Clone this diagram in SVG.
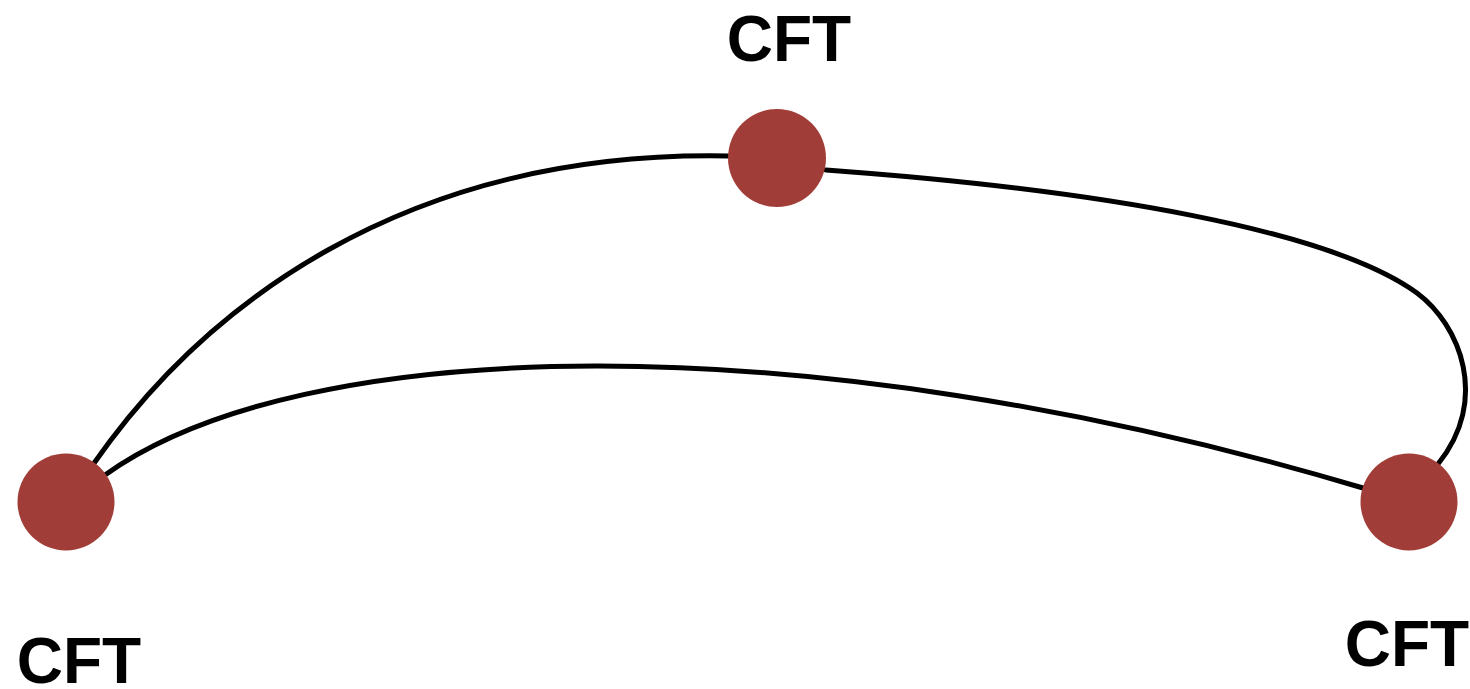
<svg xmlns="http://www.w3.org/2000/svg" width="1470" height="689" viewBox="0 0 1470 689">
  <style>
    .edge { fill: none; stroke: #000; stroke-width: 5; stroke-linecap: round; }
    .dot { fill: #a6403a; filter: url(#grain); }
    .label { font-family: "Liberation Sans", Arial, sans-serif; font-weight: bold; font-size: 64px; fill: #000; text-anchor: middle; }
  </style>
  <defs>
    <!-- faint paper-like grain on the node discs -->
    <filter id="grain" x="0" y="0" width="100%" height="100%">
      <feTurbulence type="fractalNoise" baseFrequency="0.9" numOctaves="2" seed="3" result="noise"/>
      <feColorMatrix in="noise" type="matrix" values="0 0 0 0 0  0 0 0 0 0  0 0 0 0 0  0 0 0 0.12 0" result="speck"/>
      <feComposite in="speck" in2="SourceGraphic" operator="in" result="speckIn"/>
      <feMerge>
        <feMergeNode in="SourceGraphic"/>
        <feMergeNode in="speckIn"/>
      </feMerge>
    </filter>
  </defs>
  <rect width="1470" height="689" fill="#fff"/>

  <g id="connectors">
    <path class="edge" d="M92,466 C200,310 400,150 728,156"/>
    <path class="edge" d="M826,170 C1100,190 1330,230 1417,293 C1460,325 1490,400 1438,464"/>
    <path class="edge" d="M105,475 C300,335 800,320 1363,488"/>
  </g>

  <g id="node-top">
    <circle class="dot" cx="777" cy="158" r="49"/>
    <text class="label" x="789" y="61">CFT</text>
  </g>
  <g id="node-left">
    <circle class="dot" cx="66" cy="502" r="48.5"/>
    <text class="label" x="79" y="683">CFT</text>
  </g>
  <g id="node-right">
    <circle class="dot" cx="1409" cy="502" r="48.5"/>
    <text class="label" x="1407" y="666">CFT</text>
  </g>
</svg>
